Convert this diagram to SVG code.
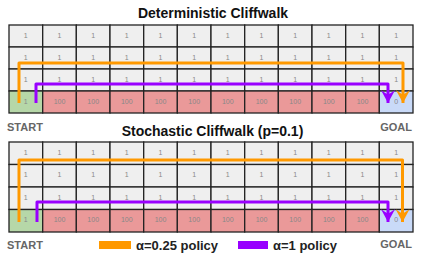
<svg xmlns="http://www.w3.org/2000/svg" width="423" height="256" viewBox="0 0 423 256">
<style>
.c{stroke:#222;stroke-width:1.3}
.g{fill:#efefef}.s{fill:#b6d7a8}.r{fill:#ea9999}.b{fill:#c9daf8}
.n{font-family:"Liberation Sans",Arial,sans-serif;font-size:7px;fill:#888;text-anchor:middle}
.t{font-family:"Liberation Sans",Arial,sans-serif;font-size:14px;font-weight:bold;fill:#111;text-anchor:middle}
.l{font-family:"Liberation Sans",Arial,sans-serif;font-size:11px;font-weight:bold;fill:#666}
.k{font-family:"Liberation Sans",Arial,sans-serif;font-size:13px;font-weight:bold;fill:#222}
.p{fill:none;stroke-width:3;stroke-linejoin:round}
.o{stroke:#ff9900}.v{stroke:#9900ff}
</style>
<defs>
<marker id="ao" markerUnits="userSpaceOnUse" markerWidth="14" markerHeight="14" viewBox="0 0 12 12" refX="11" refY="6" orient="auto"><path d="M0,0 L11,6 L0,12 L4,6 Z" fill="#ff9900"/></marker>
<marker id="av" markerUnits="userSpaceOnUse" markerWidth="14" markerHeight="14" viewBox="0 0 12 12" refX="11" refY="6" orient="auto"><path d="M0,0 L11,6 L0,12 L4,6 Z" fill="#9900ff"/></marker>
</defs>
<text class="t" x="213" y="18">Deterministic Cliffwalk</text>
<g id="grid-deterministic">
<g id="d-row1">
<rect class="c g" x="9" y="25" width="33.7" height="22"/><rect class="c g" x="42.7" y="25" width="33.7" height="22"/><rect class="c g" x="76.3" y="25" width="33.7" height="22"/><rect class="c g" x="110" y="25" width="33.7" height="22"/><rect class="c g" x="143.7" y="25" width="33.7" height="22"/><rect class="c g" x="177.3" y="25" width="33.7" height="22"/><rect class="c g" x="211" y="25" width="33.7" height="22"/><rect class="c g" x="244.7" y="25" width="33.7" height="22"/><rect class="c g" x="278.3" y="25" width="33.7" height="22"/><rect class="c g" x="312" y="25" width="33.7" height="22"/><rect class="c g" x="345.7" y="25" width="33.7" height="22"/><rect class="c g" x="379.3" y="25" width="33.7" height="22"/>
<text class="n" x="25.8" y="37.5">1</text><text class="n" x="59.5" y="37.5">1</text><text class="n" x="93.2" y="37.5">1</text><text class="n" x="126.8" y="37.5">1</text><text class="n" x="160.5" y="37.5">1</text><text class="n" x="194.2" y="37.5">1</text><text class="n" x="227.8" y="37.5">1</text><text class="n" x="261.5" y="37.5">1</text><text class="n" x="295.2" y="37.5">1</text><text class="n" x="328.8" y="37.5">1</text><text class="n" x="362.5" y="37.5">1</text><text class="n" x="396.2" y="37.5">1</text>
</g>
<g id="d-row2">
<rect class="c g" x="9" y="47" width="33.7" height="22"/><rect class="c g" x="42.7" y="47" width="33.7" height="22"/><rect class="c g" x="76.3" y="47" width="33.7" height="22"/><rect class="c g" x="110" y="47" width="33.7" height="22"/><rect class="c g" x="143.7" y="47" width="33.7" height="22"/><rect class="c g" x="177.3" y="47" width="33.7" height="22"/><rect class="c g" x="211" y="47" width="33.7" height="22"/><rect class="c g" x="244.7" y="47" width="33.7" height="22"/><rect class="c g" x="278.3" y="47" width="33.7" height="22"/><rect class="c g" x="312" y="47" width="33.7" height="22"/><rect class="c g" x="345.7" y="47" width="33.7" height="22"/><rect class="c g" x="379.3" y="47" width="33.7" height="22"/>
<text class="n" x="25.8" y="59.5">1</text><text class="n" x="59.5" y="59.5">1</text><text class="n" x="93.2" y="59.5">1</text><text class="n" x="126.8" y="59.5">1</text><text class="n" x="160.5" y="59.5">1</text><text class="n" x="194.2" y="59.5">1</text><text class="n" x="227.8" y="59.5">1</text><text class="n" x="261.5" y="59.5">1</text><text class="n" x="295.2" y="59.5">1</text><text class="n" x="328.8" y="59.5">1</text><text class="n" x="362.5" y="59.5">1</text><text class="n" x="396.2" y="59.5">1</text>
</g>
<g id="d-row3">
<rect class="c g" x="9" y="69" width="33.7" height="22"/><rect class="c g" x="42.7" y="69" width="33.7" height="22"/><rect class="c g" x="76.3" y="69" width="33.7" height="22"/><rect class="c g" x="110" y="69" width="33.7" height="22"/><rect class="c g" x="143.7" y="69" width="33.7" height="22"/><rect class="c g" x="177.3" y="69" width="33.7" height="22"/><rect class="c g" x="211" y="69" width="33.7" height="22"/><rect class="c g" x="244.7" y="69" width="33.7" height="22"/><rect class="c g" x="278.3" y="69" width="33.7" height="22"/><rect class="c g" x="312" y="69" width="33.7" height="22"/><rect class="c g" x="345.7" y="69" width="33.7" height="22"/><rect class="c g" x="379.3" y="69" width="33.7" height="22"/>
<text class="n" x="25.8" y="81.5">1</text><text class="n" x="59.5" y="81.5">1</text><text class="n" x="93.2" y="81.5">1</text><text class="n" x="126.8" y="81.5">1</text><text class="n" x="160.5" y="81.5">1</text><text class="n" x="194.2" y="81.5">1</text><text class="n" x="227.8" y="81.5">1</text><text class="n" x="261.5" y="81.5">1</text><text class="n" x="295.2" y="81.5">1</text><text class="n" x="328.8" y="81.5">1</text><text class="n" x="362.5" y="81.5">1</text><text class="n" x="396.2" y="81.5">1</text>
</g>
<g id="d-row4">
<rect class="c s" x="9" y="91" width="33.7" height="22"/><rect class="c r" x="42.7" y="91" width="33.7" height="22"/><rect class="c r" x="76.3" y="91" width="33.7" height="22"/><rect class="c r" x="110" y="91" width="33.7" height="22"/><rect class="c r" x="143.7" y="91" width="33.7" height="22"/><rect class="c r" x="177.3" y="91" width="33.7" height="22"/><rect class="c r" x="211" y="91" width="33.7" height="22"/><rect class="c r" x="244.7" y="91" width="33.7" height="22"/><rect class="c r" x="278.3" y="91" width="33.7" height="22"/><rect class="c r" x="312" y="91" width="33.7" height="22"/><rect class="c r" x="345.7" y="91" width="33.7" height="22"/><rect class="c b" x="379.3" y="91" width="33.7" height="22"/>
<text class="n" x="25.8" y="103.5">1</text><text class="n" x="59.5" y="103.5">100</text><text class="n" x="93.2" y="103.5">100</text><text class="n" x="126.8" y="103.5">100</text><text class="n" x="160.5" y="103.5">100</text><text class="n" x="194.2" y="103.5">100</text><text class="n" x="227.8" y="103.5">100</text><text class="n" x="261.5" y="103.5">100</text><text class="n" x="295.2" y="103.5">100</text><text class="n" x="328.8" y="103.5">100</text><text class="n" x="362.5" y="103.5">100</text><text class="n" x="396.2" y="103.5">0</text>
</g>
</g>
<text class="l" x="7" y="131">START</text>
<text class="l" x="412" y="131" text-anchor="end">GOAL</text>
<text class="t" x="212.5" y="136">Stochastic Cliffwalk (p=0.1)</text>
<g id="grid-stochastic">
<g id="s-row1">
<rect class="c g" x="9" y="142" width="33.7" height="22.5"/><rect class="c g" x="42.7" y="142" width="33.7" height="22.5"/><rect class="c g" x="76.3" y="142" width="33.7" height="22.5"/><rect class="c g" x="110" y="142" width="33.7" height="22.5"/><rect class="c g" x="143.7" y="142" width="33.7" height="22.5"/><rect class="c g" x="177.3" y="142" width="33.7" height="22.5"/><rect class="c g" x="211" y="142" width="33.7" height="22.5"/><rect class="c g" x="244.7" y="142" width="33.7" height="22.5"/><rect class="c g" x="278.3" y="142" width="33.7" height="22.5"/><rect class="c g" x="312" y="142" width="33.7" height="22.5"/><rect class="c g" x="345.7" y="142" width="33.7" height="22.5"/><rect class="c g" x="379.3" y="142" width="33.7" height="22.5"/>
<text class="n" x="25.8" y="154.5">1</text><text class="n" x="59.5" y="154.5">1</text><text class="n" x="93.2" y="154.5">1</text><text class="n" x="126.8" y="154.5">1</text><text class="n" x="160.5" y="154.5">1</text><text class="n" x="194.2" y="154.5">1</text><text class="n" x="227.8" y="154.5">1</text><text class="n" x="261.5" y="154.5">1</text><text class="n" x="295.2" y="154.5">1</text><text class="n" x="328.8" y="154.5">1</text><text class="n" x="362.5" y="154.5">1</text><text class="n" x="396.2" y="154.5">1</text>
</g>
<g id="s-row2">
<rect class="c g" x="9" y="164.5" width="33.7" height="22.5"/><rect class="c g" x="42.7" y="164.5" width="33.7" height="22.5"/><rect class="c g" x="76.3" y="164.5" width="33.7" height="22.5"/><rect class="c g" x="110" y="164.5" width="33.7" height="22.5"/><rect class="c g" x="143.7" y="164.5" width="33.7" height="22.5"/><rect class="c g" x="177.3" y="164.5" width="33.7" height="22.5"/><rect class="c g" x="211" y="164.5" width="33.7" height="22.5"/><rect class="c g" x="244.7" y="164.5" width="33.7" height="22.5"/><rect class="c g" x="278.3" y="164.5" width="33.7" height="22.5"/><rect class="c g" x="312" y="164.5" width="33.7" height="22.5"/><rect class="c g" x="345.7" y="164.5" width="33.7" height="22.5"/><rect class="c g" x="379.3" y="164.5" width="33.7" height="22.5"/>
<text class="n" x="25.8" y="177">1</text><text class="n" x="59.5" y="177">1</text><text class="n" x="93.2" y="177">1</text><text class="n" x="126.8" y="177">1</text><text class="n" x="160.5" y="177">1</text><text class="n" x="194.2" y="177">1</text><text class="n" x="227.8" y="177">1</text><text class="n" x="261.5" y="177">1</text><text class="n" x="295.2" y="177">1</text><text class="n" x="328.8" y="177">1</text><text class="n" x="362.5" y="177">1</text><text class="n" x="396.2" y="177">1</text>
</g>
<g id="s-row3">
<rect class="c g" x="9" y="187" width="33.7" height="22.5"/><rect class="c g" x="42.7" y="187" width="33.7" height="22.5"/><rect class="c g" x="76.3" y="187" width="33.7" height="22.5"/><rect class="c g" x="110" y="187" width="33.7" height="22.5"/><rect class="c g" x="143.7" y="187" width="33.7" height="22.5"/><rect class="c g" x="177.3" y="187" width="33.7" height="22.5"/><rect class="c g" x="211" y="187" width="33.7" height="22.5"/><rect class="c g" x="244.7" y="187" width="33.7" height="22.5"/><rect class="c g" x="278.3" y="187" width="33.7" height="22.5"/><rect class="c g" x="312" y="187" width="33.7" height="22.5"/><rect class="c g" x="345.7" y="187" width="33.7" height="22.5"/><rect class="c g" x="379.3" y="187" width="33.7" height="22.5"/>
<text class="n" x="25.8" y="199.5">1</text><text class="n" x="59.5" y="199.5">1</text><text class="n" x="93.2" y="199.5">1</text><text class="n" x="126.8" y="199.5">1</text><text class="n" x="160.5" y="199.5">1</text><text class="n" x="194.2" y="199.5">1</text><text class="n" x="227.8" y="199.5">1</text><text class="n" x="261.5" y="199.5">1</text><text class="n" x="295.2" y="199.5">1</text><text class="n" x="328.8" y="199.5">1</text><text class="n" x="362.5" y="199.5">1</text><text class="n" x="396.2" y="199.5">1</text>
</g>
<g id="s-row4">
<rect class="c s" x="9" y="209.5" width="33.7" height="22.5"/><rect class="c r" x="42.7" y="209.5" width="33.7" height="22.5"/><rect class="c r" x="76.3" y="209.5" width="33.7" height="22.5"/><rect class="c r" x="110" y="209.5" width="33.7" height="22.5"/><rect class="c r" x="143.7" y="209.5" width="33.7" height="22.5"/><rect class="c r" x="177.3" y="209.5" width="33.7" height="22.5"/><rect class="c r" x="211" y="209.5" width="33.7" height="22.5"/><rect class="c r" x="244.7" y="209.5" width="33.7" height="22.5"/><rect class="c r" x="278.3" y="209.5" width="33.7" height="22.5"/><rect class="c r" x="312" y="209.5" width="33.7" height="22.5"/><rect class="c r" x="345.7" y="209.5" width="33.7" height="22.5"/><rect class="c b" x="379.3" y="209.5" width="33.7" height="22.5"/>
<text class="n" x="25.8" y="222">1</text><text class="n" x="59.5" y="222">100</text><text class="n" x="93.2" y="222">100</text><text class="n" x="126.8" y="222">100</text><text class="n" x="160.5" y="222">100</text><text class="n" x="194.2" y="222">100</text><text class="n" x="227.8" y="222">100</text><text class="n" x="261.5" y="222">100</text><text class="n" x="295.2" y="222">100</text><text class="n" x="328.8" y="222">100</text><text class="n" x="362.5" y="222">100</text><text class="n" x="396.2" y="222">0</text>
</g>
</g>
<g id="connectors">
<path class="p o" d="M19,103 V63 H403 V103" marker-end="url(#ao)"/>
<path class="p v" d="M36,103 V84 H388 V103" marker-end="url(#av)"/>
<path class="p o" d="M19,222 V160 H402.5 V222" marker-end="url(#ao)"/>
<path class="p v" d="M37,222 V202 H388 V222" marker-end="url(#av)"/>
</g>
<text class="l" x="7" y="248.5">START</text>
<text class="l" x="412" y="248" text-anchor="end">GOAL</text>
<g id="legend">
<rect x="99" y="241" width="32" height="8" fill="#ff9900"/>
<text class="k" x="136" y="250">α=0.25 policy</text>
<rect x="238" y="241" width="30" height="8" fill="#9900ff"/>
<text class="k" x="273" y="250">α=1 policy</text>
</g>
</svg>
